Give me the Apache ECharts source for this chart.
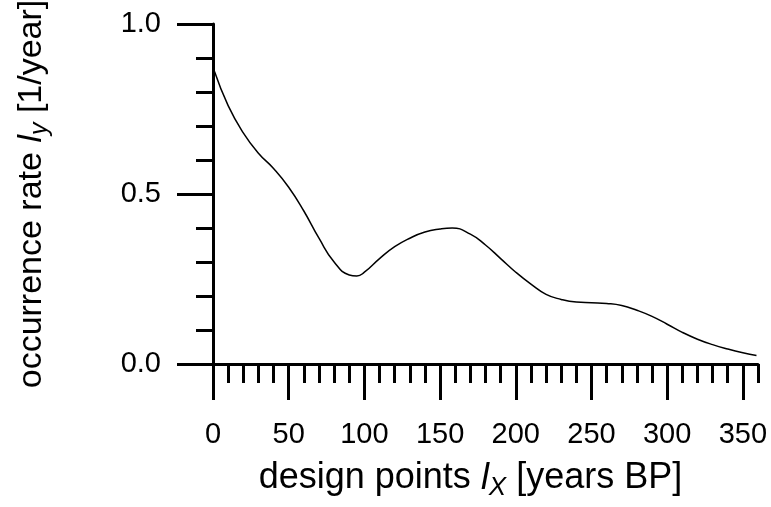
<!DOCTYPE html>
<html>
<head>
<meta charset="utf-8">
<script src="https://cdn.jsdelivr.net/npm/echarts@6/dist/echarts.min.js"></script>
<style>html,body{margin:0;padding:0;background:#fff;}#c{width:771px;height:507px;}</style>
</head>
<body>
<div id="c"></div>
<script>
// Data
const xValues = [1, 10, 20, 30, 40, 50, 60, 70, 80, 90, 95, 100, 110, 120, 130, 140, 150, 158, 170, 180, 190, 200, 210, 220, 230, 240, 250, 260, 270, 280, 290, 300, 310, 320, 330, 340, 350, 359];
const yValues = [0.86, 0.76, 0.68, 0.62, 0.575, 0.52, 0.45, 0.37, 0.30, 0.262, 0.259, 0.27, 0.31, 0.345, 0.37, 0.388, 0.397, 0.40, 0.382, 0.35, 0.31, 0.27, 0.235, 0.205, 0.19, 0.182, 0.18, 0.178, 0.172, 0.158, 0.14, 0.117, 0.093, 0.073, 0.057, 0.044, 0.033, 0.025];
const xMajorTicks = [0, 50, 100, 150, 200, 250, 300, 350];
const yMajorTicks = [0, 0.5, 1.0];
const xTitle = ['design points ', 'l', 'X', ' [years BP]'];
const yTitle = ['occurrence rate ', 'l', 'y', ' [1/year]'];

const FONT = 'Liberation Sans, Arial, sans-serif';
const black = '#000';
function makeRich(size, subSize, subDrop, endPad) {
  return {
    n: { fontSize: size, fontFamily: FONT, color: black },
    i: { fontSize: size, fontFamily: FONT, color: black, fontStyle: 'italic' },
    s: { fontSize: subSize, fontFamily: FONT, color: black, fontStyle: 'italic', padding: [subDrop, 0, 0, 0] },
    e: { fontSize: size, fontFamily: FONT, color: black, padding: [0, endPad, 0, 0] }
  };
}
function richName(p) { return '{n|' + p[0] + '}{i|' + p[1] + '}{s|' + p[2] + '}{e|' + p[3] + '}'; }

const data = xValues.map((x, i) => [x, yValues[i]]);
const lineW = 3;

const option = {
  animation: false,
  backgroundColor: '#fff',
  grid: { left: 213, right: 13, top: 24, bottom: 143, containLabel: false, outerBoundsMode: 'none' },
  xAxis: [
    {
      type: 'value', min: 0, max: 360, interval: 10, position: 'bottom',
      axisLine: { onZero: false, lineStyle: { color: black, width: lineW } },
      axisTick: { length: 19, lineStyle: { color: black, width: lineW } },
      axisLabel: { show: false },
      splitLine: { show: false }
    },
    {
      type: 'value', min: 0, max: 360, position: 'bottom',
      axisLine: { show: false, onZero: false },
      axisTick: { customValues: xMajorTicks, length: 36, lineStyle: { color: black, width: lineW } },
      axisLabel: { customValues: xMajorTicks, fontSize: 29, fontFamily: FONT, color: black, margin: 56 },
      splitLine: { show: false },
      name: richName(xTitle), nameLocation: 'middle', nameGap: 92,
      nameTextStyle: { rich: makeRich(36, 26, 19, 30) }
    }
  ],
  yAxis: [
    {
      type: 'value', min: 0, max: 1, interval: 0.1, position: 'left',
      axisLine: { onZero: false, lineStyle: { color: black, width: lineW } },
      axisTick: { length: 17, lineStyle: { color: black, width: lineW } },
      axisLabel: { show: false },
      splitLine: { show: false }
    },
    {
      type: 'value', min: 0, max: 1, position: 'left',
      axisLine: { show: false, onZero: false },
      axisTick: { customValues: yMajorTicks, length: 36, lineStyle: { color: black, width: lineW } },
      axisLabel: { customValues: yMajorTicks, fontSize: 29, fontFamily: FONT, color: black, margin: 52,
        formatter: v => v.toFixed(1) },
      splitLine: { show: false },
      name: richName(yTitle), nameLocation: 'middle', nameGap: 160, nameRotate: 90,
      nameTextStyle: { rich: makeRich(34, 25, 18, 0) }
    }
  ],
  series: [{
    type: 'line', xAxisIndex: 0, yAxisIndex: 0, data: data, smooth: true, showSymbol: false,
    lineStyle: { color: black, width: 1.5 }
  }]
};
echarts.init(document.getElementById('c'), null, { renderer: 'canvas' }).setOption(option);
</script>
</body>
</html>
